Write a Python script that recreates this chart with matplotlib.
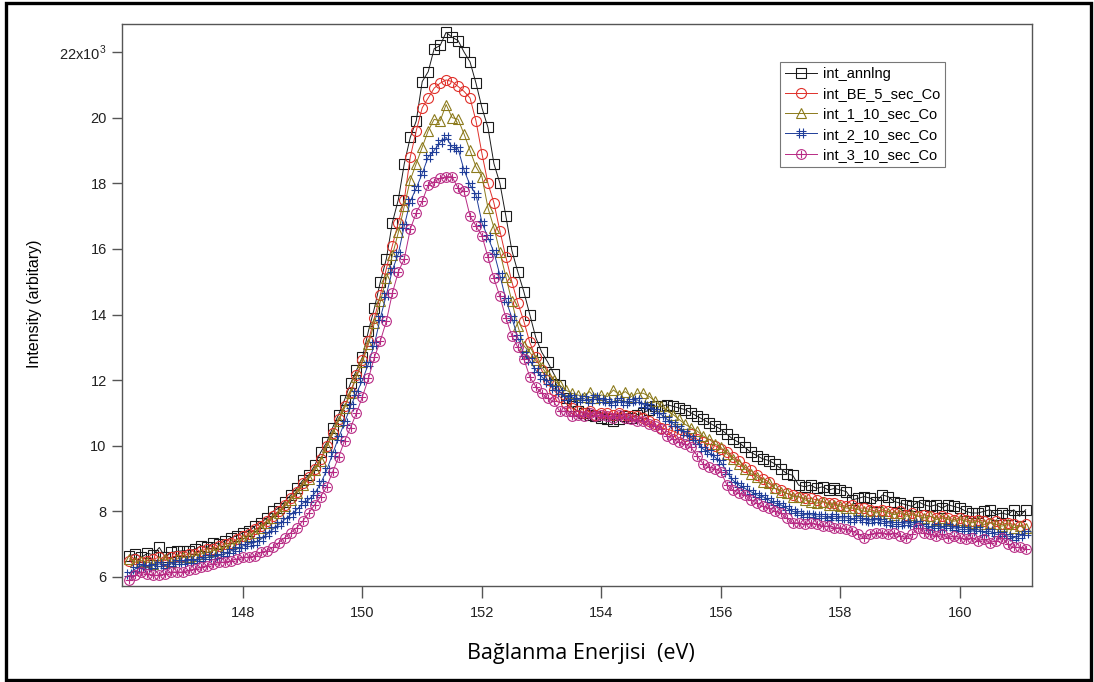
import numpy as np
import matplotlib
matplotlib.use('Agg')
import matplotlib.pyplot as plt
from matplotlib.path import Path
from matplotlib.patches import Rectangle

plt.rcParams['font.family'] = ['Liberation Sans', 'DejaVu Sans']
plt.rcParams['mathtext.fontset'] = 'custom'
plt.rcParams['mathtext.rm'] = 'Liberation Sans'

# binding energy grid (eV), 0.1 eV step
energy = np.round(146.1 + 0.1 * np.arange(151), 1)

# intensities in units of 10^3
int_annlng = [
    6.65, 6.70, 6.60, 6.72, 6.68, 6.90, 6.60, 6.75, 6.78, 6.80,
    6.80, 6.85, 6.95, 6.90, 7.05, 7.00, 7.10, 7.20, 7.25, 7.35,
    7.40, 7.55, 7.65, 7.80, 8.00, 8.10, 8.30, 8.50, 8.70, 8.95,
    9.10, 9.40, 9.80, 10.10, 10.55, 10.95, 11.40, 11.90, 12.30, 12.70,
    13.50, 14.20, 15.00, 15.70, 16.80, 17.50, 18.60, 19.40, 19.90, 21.10,
    21.40, 22.10, 22.20, 22.60, 22.45, 22.35, 22.00, 21.70, 21.05, 20.30,
    19.70, 18.60, 18.00, 17.00, 15.95, 15.30, 14.70, 14.00, 13.30, 12.85,
    12.55, 12.20, 11.85, 11.45, 11.20, 11.05, 11.00, 10.95, 10.90, 10.85,
    10.80, 10.75, 10.80, 10.90, 10.85, 10.95, 11.00, 11.10, 11.20, 11.20,
    11.25, 11.20, 11.15, 11.10, 11.00, 10.90, 10.80, 10.70, 10.60, 10.50,
    10.35, 10.20, 10.10, 9.95, 9.80, 9.70, 9.60, 9.55, 9.45, 9.30,
    9.15, 9.10, 8.80, 8.75, 8.80, 8.70, 8.75, 8.65, 8.70, 8.65,
    8.60, 8.35, 8.40, 8.45, 8.40, 8.30, 8.50, 8.45, 8.30, 8.25,
    8.20, 8.15, 8.30, 8.20, 8.15, 8.20, 8.10, 8.20, 8.15, 8.10,
    8.00, 7.95, 7.95, 8.00, 8.05, 7.90, 7.95, 7.90, 8.05, 7.85, 8.05]

int_BE_5 = [
    6.50, 6.55, 6.45, 6.50, 6.55, 6.60, 6.50, 6.60, 6.65, 6.65,
    6.70, 6.70, 6.80, 6.85, 6.85, 6.95, 7.00, 7.05, 7.15, 7.25,
    7.30, 7.45, 7.55, 7.70, 7.85, 8.00, 8.20, 8.40, 8.60, 8.85,
    9.05, 9.30, 9.60, 10.00, 10.40, 10.80, 11.20, 11.65, 12.15, 12.60,
    13.20, 13.90, 14.60, 15.40, 16.10, 16.80, 17.50, 18.80, 19.60, 20.30,
    20.60, 20.90, 21.05, 21.15, 21.10, 20.95, 20.80, 20.60, 19.90, 18.90,
    18.00, 17.40, 16.55, 15.75, 15.00, 14.35, 13.80, 13.15, 12.70, 12.30,
    12.00, 11.70, 11.50, 11.30, 11.15, 11.05, 11.00, 11.05, 10.95, 11.00,
    11.00, 10.95, 11.00, 10.95, 10.90, 10.90, 10.85, 10.75, 10.65, 10.55,
    10.50, 10.45, 10.35, 10.30, 10.35, 10.20, 10.10, 10.05, 10.00, 9.90,
    9.80, 9.65, 9.55, 9.35, 9.25, 9.10, 9.00, 8.90, 8.70, 8.65,
    8.55, 8.50, 8.45, 8.40, 8.40, 8.35, 8.30, 8.25, 8.25, 8.20,
    8.15, 8.20, 8.10, 8.10, 8.05, 8.00, 8.05, 8.00, 7.95, 8.00,
    7.90, 7.95, 7.85, 7.90, 7.85, 7.80, 7.85, 7.80, 7.75, 7.80,
    7.75, 7.70, 7.75, 7.70, 7.65, 7.70, 7.60, 7.65, 7.60, 7.55, 7.60]

int_1_10 = [
    6.55, 6.45, 6.50, 6.45, 6.40, 6.50, 6.55, 6.45, 6.55, 6.60,
    6.60, 6.65, 6.70, 6.75, 6.80, 6.85, 6.90, 7.00, 7.05, 7.15,
    7.25, 7.35, 7.50, 7.65, 7.80, 7.95, 8.15, 8.35, 8.55, 8.80,
    9.00, 9.25, 9.55, 9.95, 10.35, 10.75, 11.15, 11.60, 12.10, 12.55,
    13.10, 13.75, 14.40, 15.10, 15.80, 16.50, 17.30, 18.10, 18.60, 19.10,
    19.60, 19.95, 19.90, 20.40, 20.00, 19.95, 19.50, 19.00, 18.50, 18.20,
    17.25, 16.65, 15.90, 15.15, 14.40, 13.65, 13.05, 12.85, 12.60, 12.40,
    12.15, 12.00, 11.85, 11.70, 11.60, 11.55, 11.50, 11.65, 11.45, 11.55,
    11.50, 11.70, 11.55, 11.65, 11.50, 11.60, 11.60, 11.50, 11.35, 11.20,
    11.05, 10.95, 10.80, 10.65, 10.55, 10.45, 10.30, 10.20, 10.05, 9.95,
    9.75, 9.60, 9.45, 9.30, 9.15, 9.05, 8.90, 8.85, 8.70, 8.60,
    8.55, 8.45, 8.45, 8.35, 8.30, 8.25, 8.30, 8.20, 8.20, 8.15,
    8.10, 8.10, 8.05, 8.00, 8.00, 7.95, 8.00, 7.95, 7.90, 7.95,
    7.85, 7.90, 7.85, 7.80, 7.85, 7.75, 7.80, 7.75, 7.70, 7.75,
    7.70, 7.65, 7.70, 7.60, 7.65, 7.60, 7.55, 7.60, 7.50, 7.55, 7.50]

int_2_10 = [
    6.10, 6.25, 6.35, 6.30, 6.35, 6.40, 6.35, 6.40, 6.45, 6.45,
    6.50, 6.50, 6.55, 6.60, 6.60, 6.65, 6.70, 6.80, 6.85, 6.95,
    7.00, 7.05, 7.15, 7.30, 7.45, 7.60, 7.75, 7.90, 8.05, 8.25,
    8.35, 8.55, 8.85, 9.25, 9.75, 10.25, 10.70, 11.20, 11.60, 12.00,
    12.50, 13.10, 13.90, 14.60, 15.35, 15.85, 16.70, 17.45, 17.85, 18.30,
    18.80, 19.00, 19.25, 19.40, 19.10, 19.05, 18.40, 17.95, 17.65, 16.80,
    16.35, 15.90, 15.20, 14.45, 13.90, 13.30, 12.80, 12.60, 12.30, 12.10,
    11.95, 11.75, 11.65, 11.45, 11.50, 11.40, 11.45, 11.35, 11.50, 11.40,
    11.35, 11.30, 11.40, 11.30, 11.35, 11.40, 11.25, 11.20, 11.05, 10.95,
    10.80, 10.65, 10.55, 10.40, 10.25, 10.10, 9.90, 9.80, 9.65, 9.50,
    9.20, 8.95, 8.80, 8.70, 8.60, 8.50, 8.45, 8.35, 8.25, 8.20,
    8.10, 8.00, 7.95, 7.90, 7.90, 7.85, 7.85, 7.80, 7.85, 7.80,
    7.80, 7.75, 7.80, 7.75, 7.70, 7.75, 7.70, 7.65, 7.60, 7.60,
    7.65, 7.60, 7.65, 7.55, 7.50, 7.55, 7.50, 7.55, 7.50, 7.45,
    7.45, 7.40, 7.45, 7.35, 7.40, 7.30, 7.30, 7.25, 7.20, 7.25, 7.35]

int_3_10 = [
    5.90, 6.05, 6.15, 6.10, 6.05, 6.05, 6.10, 6.15, 6.15, 6.15,
    6.20, 6.25, 6.30, 6.35, 6.40, 6.45, 6.45, 6.50, 6.55, 6.60,
    6.60, 6.65, 6.75, 6.80, 6.90, 7.05, 7.20, 7.35, 7.50, 7.70,
    7.95, 8.20, 8.45, 8.75, 9.20, 9.65, 10.15, 10.55, 11.00, 11.50,
    12.05, 12.70, 13.20, 13.80, 14.65, 15.30, 15.70, 16.60, 17.10, 17.45,
    17.95, 18.05, 18.15, 18.20, 18.20, 17.85, 17.75, 17.00, 16.70, 16.40,
    15.75, 15.10, 14.55, 13.90, 13.35, 13.00, 12.65, 12.10, 11.80, 11.60,
    11.45, 11.35, 11.05, 11.05, 10.90, 10.95, 10.90, 11.00, 10.90, 10.95,
    10.90, 10.85, 10.95, 10.85, 10.80, 10.75, 10.75, 10.65, 10.60, 10.50,
    10.30, 10.20, 10.10, 10.05, 9.95, 9.70, 9.45, 9.35, 9.30, 9.20,
    8.80, 8.65, 8.55, 8.50, 8.35, 8.25, 8.15, 8.10, 8.00, 7.95,
    7.80, 7.65, 7.65, 7.60, 7.65, 7.60, 7.55, 7.55, 7.50, 7.50,
    7.45, 7.40, 7.30, 7.20, 7.30, 7.35, 7.35, 7.30, 7.35, 7.25,
    7.20, 7.30, 7.50, 7.35, 7.30, 7.25, 7.30, 7.20, 7.25, 7.20,
    7.15, 7.20, 7.10, 7.15, 7.05, 7.10, 7.20, 7.00, 6.90, 6.90, 6.85]

labels = ['int_annlng', 'int_BE_5_sec_Co', 'int_1_10_sec_Co',
          'int_2_10_sec_Co', 'int_3_10_sec_Co']
series = [int_annlng, int_BE_5, int_1_10, int_2_10, int_3_10]

ytick_vals = [6, 8, 10, 12, 14, 16, 18, 20, 22]
ytick_text = ['6', '8', '10', '12', '14', '16', '18', '20', '22x10$^{3}$']
xtick_vals = [148, 150, 152, 154, 156, 158, 160]

# custom markers: '#' and circle with a plus
M, L = Path.MOVETO, Path.LINETO
hash_mk = Path([(-0.35, -1), (-0.35, 1), (0.35, -1), (0.35, 1),
                (-1, -0.35), (1, -0.35), (-1, 0.35), (1, 0.35)], [M, L] * 4)
cross = Path([(0, -0.75), (0, 0.75), (-0.75, 0), (0.75, 0)], [M, L, M, L])
oplus_mk = Path.make_compound_path(Path.unit_circle(), cross)

colors = ['#1a1a1a', '#e0302a', '#8c7a1c', '#1f3d99', '#b82a84']
markers = ['s', 'o', '^', hash_mk, oplus_mk]
msizes = [7.6, 7.2, 7.4, 7.4, 7.0]

fig = plt.figure(figsize=(10.94, 6.82), dpi=100)
ax = fig.add_axes([0.1115, 0.1408, 0.8318, 0.824])

for y, lab, c, mk, ms in zip(series, labels, colors, markers, msizes):
    ax.plot(energy, y, color=c, lw=0.7, marker=mk, ms=ms, mfc='none',
            mec=c, mew=0.8, label=lab)

ax.set_xlim(145.975, 161.205)
ax.set_ylim(5.726, 22.854)
ax.set_xticks(xtick_vals)
ax.set_yticks(ytick_vals)
ax.set_yticklabels(ytick_text)
for s in ax.spines.values():
    s.set_color('#555555')
    s.set_linewidth(1.0)
ax.tick_params(axis='x', direction='out', length=8.6, width=1, color='#555555',
               pad=6, labelsize=10.5, labelcolor='#222222')
ax.tick_params(axis='y', direction='out', length=7, width=1, color='#555555',
               pad=4, labelsize=10.5, labelcolor='#222222')

leg = ax.legend(loc='upper left', bbox_to_anchor=(0.713, 0.909),
                bbox_transform=fig.transFigure, fontsize=10.5, fancybox=False,
                edgecolor='#777777', framealpha=1, handlelength=2.2,
                handletextpad=0.4, labelspacing=0.42, borderpad=0.35,
                borderaxespad=0)
leg.get_frame().set_linewidth(0.8)

fig.text(581 / 1094, 1 - 653 / 682, 'Bağlanma Enerjisi  (eV)',
         ha='center', va='center', fontsize=15.5, family=['Open Sans', 'DejaVu Sans'])
fig.text(35 / 1094, 1 - 304 / 682, 'Intensity (arbitary)', rotation=90,
         ha='center', va='center', fontsize=11.5)

# outer frame around the whole picture
fig.patches.append(Rectangle((6 / 1094, 2 / 682), 1085 / 1094, 677 / 682,
                             transform=fig.transFigure, fill=False,
                             edgecolor='black', lw=2.4))

fig.savefig('out.png', dpi=100)
